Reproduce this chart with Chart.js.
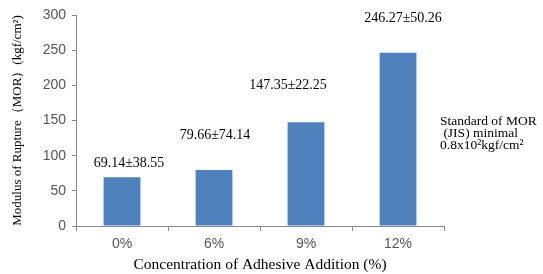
<!DOCTYPE html>
<html>
<head>
<meta charset="utf-8">
<script src="https://cdn.jsdelivr.net/npm/chart.js@4"></script>
<style>
html,body{margin:0;padding:0;background:#fff;}
#wrap{width:543px;height:274px;position:relative;}
</style>
</head>
<body>
<div id="wrap"><canvas id="c" width="543" height="274"></canvas></div>
<script>
const categories = ["0%", "6%", "9%", "12%"];
const morValues = [69.14, 79.66, 147.35, 246.27];
const morStdDev = [38.55, 74.14, 22.25, 50.26];
const yTicks = [0, 50, 100, 150, 200, 250, 300];
const noteLines = ["Standard of MOR", " (JIS) minimal", "0.8x10²kgf/cm²"];

// label offsets (style only): dx, dy relative to bar top centre
const labelOffsets = [[7, -14], [1, -35], [-18, -37], [5, -34]];

const serif = "'Liberation Serif', 'Times New Roman', serif";
const sans = "'Liberation Sans', Arial, sans-serif";

const labelPlugin = {
  id: 'labels',
  afterDatasetsDraw(chart) {
    const ctx = chart.ctx;
    const meta = chart.getDatasetMeta(0);
    ctx.save();
    ctx.font = "14px " + serif;
    ctx.fillStyle = "#000";
    ctx.textAlign = "center";
    ctx.textBaseline = "middle";
    meta.data.forEach((bar, i) => {
      const t = morValues[i].toFixed(2) + "±" + morStdDev[i].toFixed(2);
      ctx.fillText(t, bar.x + labelOffsets[i][0], bar.y + labelOffsets[i][1]);
    });
    ctx.font = "13.5px " + serif;
    ctx.textAlign = "left";
    const x0 = chart.chartArea.right - 4;
    noteLines.forEach((l, i) => {
      ctx.fillText(l, x0, 121 + i * 12);
    });
    ctx.restore();
  }
};

new Chart(document.getElementById('c'), {
  type: 'bar',
  data: {
    labels: categories,
    datasets: [{
      data: morValues,
      backgroundColor: '#4F81BD',
      borderWidth: 0,
      barPercentage: 0.8,
      categoryPercentage: 0.5
    }]
  },
  options: {
    responsive: false,
    animation: false,
    devicePixelRatio: 1,
    layout: { padding: { left: 0, right: 99, top: 15, bottom: 0 } },
    plugins: { legend: { display: false }, tooltip: { enabled: false } },
    scales: {
      y: {
        min: 0, max: 300,
        afterBuildTicks(s) { s.ticks = yTicks.map(v => ({ value: v })); },
        afterFit(s) { s.width = 76; },
        grid: { drawOnChartArea: false, color: '#888', tickLength: 4, drawTicks: true },
        border: { color: '#888' },
        ticks: { font: { family: sans, size: 14 }, color: '#555', padding: 6 },
        title: {
          display: true,
          text: 'Modulus of Rupture（MOR）(kgf/cm²)',
          font: { family: serif, size: 13 },
          color: '#000',
          padding: { top: 10, bottom: 4 }
        }
      },
      x: {
        afterFit(s) { s.height = 48; },
        grid: { drawOnChartArea: false, color: '#888', tickLength: 5, offset: true },
        border: { color: '#888' },
        ticks: { font: { family: sans, size: 14 }, color: '#555', padding: 5 },
        title: {
          display: true,
          text: 'Concentration of Adhesive Addition (%)',
          font: { family: serif, size: 15.5 },
          color: '#000',
          padding: { top: 0, bottom: 0 }
        }
      }
    }
  },
  plugins: [labelPlugin]
});
</script>
</body>
</html>
